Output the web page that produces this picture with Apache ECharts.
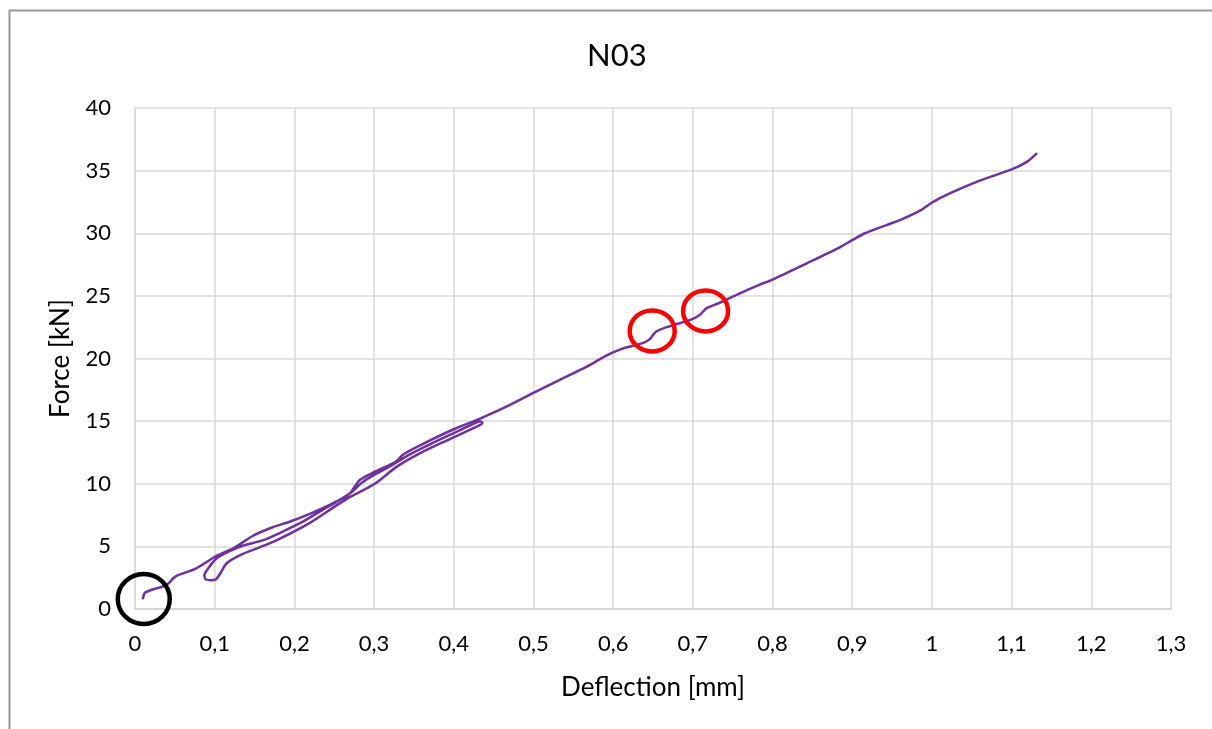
<!DOCTYPE html>
<html>
<head>
<meta charset="utf-8">
<script src="https://cdn.jsdelivr.net/npm/echarts@6/dist/echarts.min.js"></script>
<style>
html,body{margin:0;padding:0;background:#fff;}
#chart{width:1212px;height:729px;}
</style>
</head>
<body>
<div id="chart"></div>
<script>
// ---- Data (deflection in mm, force in kN) ----
const titleText = 'N03';
const xAxisName = 'Deflection [mm]';
const yAxisName = 'Force [kN]';

// first loading
const load1X = [0.0097,0.0125,0.024,0.0355,0.043,0.048,0.054,0.077,0.1025,0.125,0.148,0.1735,0.194,0.22,0.25,0.27,0.285,0.301,0.316,0.328,0.345,0.37,0.40,0.422,0.433];
const load1Y = [0.77,1.3,1.6,1.8,2.1,2.45,2.7,3.25,4.25,4.9,5.85,6.55,6.97,7.62,8.5,9.25,10.1,10.75,11.25,11.7,12.35,13.15,14.05,14.7,15.0];

// unloading
const unloadX = [0.436,0.43,0.391,0.358,0.328,0.301,0.27,0.25,0.22,0.178,0.153,0.132,0.115,0.108,0.102,0.096,0.089];
const unloadY = [14.85,14.6,13.45,12.45,11.35,10.0,8.95,8.15,6.9,5.5,4.84,4.3,3.65,2.95,2.4,2.3,2.35];

// reloading
const reloadX = [0.087,0.092,0.1025,0.118,0.135,0.161,0.186,0.21,0.235,0.26,0.27,0.282,0.301,0.316,0.328,0.337,0.362,0.40,0.433,0.466,0.5,0.533,0.567,0.592,0.61,0.638,0.646,0.653,0.667,0.696,0.709,0.717,0.734,0.759,0.784,0.8,0.843,0.885,0.9,0.916,0.943,0.96,0.985,1.0,1.023,1.06,1.1,1.119,1.132];
const reloadY = [2.7,3.25,4.05,4.6,5.05,5.5,6.2,6.95,7.9,8.8,9.25,10.3,10.96,11.4,11.8,12.35,13.2,14.35,15.2,16.15,17.26,18.3,19.35,20.25,20.75,21.25,21.55,22.1,22.5,23.06,23.5,24.0,24.45,25.2,25.9,26.3,27.6,28.9,29.45,30.0,30.65,31.05,31.8,32.45,33.2,34.2,35.1,35.7,36.4];

// annotation marks (data coordinates)
const blackMark = [0.011, 0.8];
const redMarks = [[0.649, 22.2], [0.716, 23.8]];

// axis ranges
const xMin = 0, xMax = 1.3, xStep = 0.1;
const yMin = 0, yMax = 40, yStep = 5;

// ---- Build ----
function pairs(xs, ys){ return xs.map((x,i)=>[x, ys[i]]); }
const curve = [].concat(pairs(load1X, load1Y), pairs(unloadX, unloadY), pairs(reloadX, reloadY));
const fmt = v => String(Math.round(v*10)/10).replace('.', ',');
const FONT = 'Lato, "Open Sans", sans-serif';

const chart = echarts.init(document.getElementById('chart'), null, {renderer:'canvas'});
chart.setOption({
  backgroundColor:'#fff',
  animation:false,
  title:{
    text:titleText, left:582, top:35,
    textStyle:{fontFamily:FONT, fontSize:31, fontWeight:'normal', color:'#000'}
  },
  grid:{left:135, right:41, top:108, bottom:120, containLabel:false},
  xAxis:{
    type:'value', min:xMin, max:xMax, interval:xStep,
    name:xAxisName, nameLocation:'middle', nameGap:66,
    nameTextStyle:{fontFamily:FONT, fontSize:26, color:'#000'},
    axisLine:{show:true, lineStyle:{color:'#d0d0d0', width:1.5}},
    axisTick:{show:false},
    axisLabel:{fontFamily:FONT, fontSize:22, color:'#000', margin:24, formatter:fmt},
    splitLine:{show:true, lineStyle:{color:'#d9d9d9', width:1.5}}
  },
  yAxis:{
    type:'value', min:yMin, max:yMax, interval:yStep,
    name:yAxisName, nameLocation:'middle', nameGap:61, nameRotate:90,
    nameTextStyle:{fontFamily:FONT, fontSize:26, color:'#000'},
    axisLine:{show:true, lineStyle:{color:'#d9d9d9', width:1.5}},
    axisTick:{show:false},
    axisLabel:{fontFamily:FONT, fontSize:22, color:'#000', margin:24},
    splitLine:{show:true, lineStyle:{color:'#d9d9d9', width:1.5}}
  },
  series:[{
    type:'line', data:curve, showSymbol:false, smooth:0.25,
    lineStyle:{color:'#7030A0', width:2.5}, itemStyle:{color:'#7030A0'}
  }]
});

const bp = chart.convertToPixel({gridIndex:0}, blackMark);
const gfx = [
  {type:'rect', left:7, top:8, shape:{width:1400, height:900},
   style:{fill:'none', stroke:'#9a9a9a', lineWidth:2}, silent:true, z:100},
  {type:'ellipse', shape:{cx:bp[0], cy:bp[1], rx:26, ry:25},
   style:{fill:'none', stroke:'#000', lineWidth:4.5}, z:100}
];
redMarks.forEach(m => {
  const p = chart.convertToPixel({gridIndex:0}, m);
  gfx.push({type:'ellipse', shape:{cx:p[0], cy:p[1], rx:22.5, ry:20.5},
    style:{fill:'none', stroke:'#ff0000', lineWidth:4.5}, z:100});
});
chart.setOption({graphic:gfx});
</script>
</body>
</html>
